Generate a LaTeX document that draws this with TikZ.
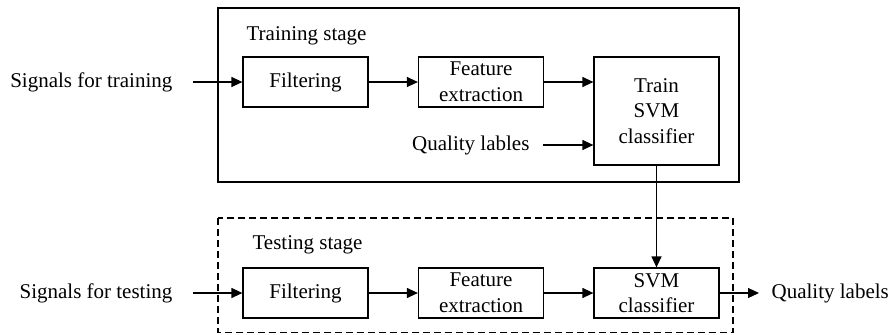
\documentclass[tikz,border=0pt]{standalone}
\usepackage{fontspec}
\setmainfont{Liberation Serif}
\usepackage{tikz}
\usetikzlibrary{arrows.meta, positioning, calc}

\tikzset{
  block/.style={draw, line width=0.6pt, align=center, inner sep=0pt,
    minimum width=62.5pt, minimum height=25pt},
  lbl/.style={inner xsep=10pt, inner ysep=0pt}
}

\begin{document}
\begin{tikzpicture}[x=0.5pt, y=-0.5pt, line width=0.6pt,
    >={Triangle[length=5.5pt, width=5pt]},
    font=\fontsize{10.5pt}{12.8pt}\selectfont]
  \useasboundingbox (0,0) rectangle (891,334);
  % Stage frames
  \draw (218,8) rectangle (739,182);
  \draw[dashed, dash pattern=on 3.5pt off 2pt] (218,218) rectangle (733,332.5);
  \node[anchor=west, inner sep=0pt] (trainlbl) at (246,36) {Training stage};
  \node[anchor=west, inner sep=0pt] (testlbl) at (252,245) {Testing stage};
  % Training stage
  \node[block] (filt1) at (305.5,82) {Filtering};
  \node[block] (feat1) at (481,82) {Feature\\extraction};
  \node[block, minimum height=54pt] (svm1) at (656.5,111) {Train\\SVM\\classifier};
  \node[lbl, anchor=east] (sigtrain) at (193,82) {Signals for training};
  \node[lbl, anchor=east, inner xsep=6.5pt] (qlab) at (543,145) {Quality lables};
  \draw[->] (sigtrain) -- (filt1);
  \draw[->] (filt1) -- (feat1);
  \draw[->] (feat1.east) -- (feat1.east -| svm1.west);
  \draw[->] (qlab.east) -- (qlab.east -| svm1.west);
  % Testing stage
  \node[block] (filt2) at (305.5,293) {Filtering};
  \node[block] (feat2) at (481,293) {Feature\\extraction};
  \node[block] (svm2) at (656.5,293) {SVM\\classifier};
  \node[lbl, anchor=east] (sigtest) at (193,293) {Signals for testing};
  \node[lbl, anchor=west, inner xsep=6pt] (qout) at (759,293) {Quality labels};
  \draw[->] (sigtest) -- (filt2);
  \draw[->] (filt2) -- (feat2);
  \draw[->] (feat2) -- (svm2);
  \draw[->] (svm2) -- (qout);
  \draw[->] (svm1) -- (svm2);
\end{tikzpicture}
\end{document}
